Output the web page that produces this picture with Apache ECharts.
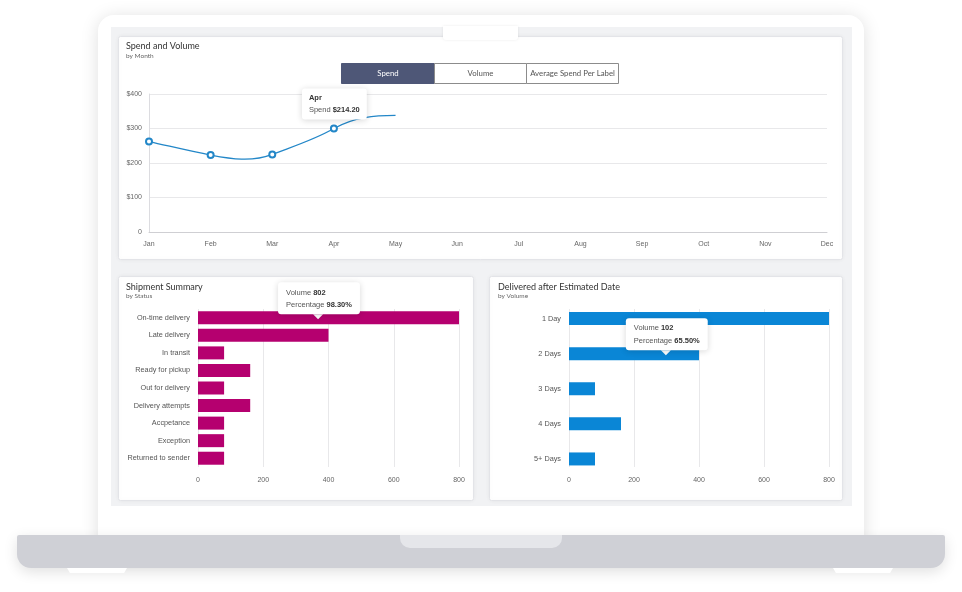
<!DOCTYPE html>
<html><head><meta charset="utf-8">
<script src="https://cdn.jsdelivr.net/npm/echarts@6/dist/echarts.min.js"></script>
<style>html,body{margin:0;padding:0;background:#fff}#c{width:962px;height:592px}</style>
</head><body><div id="c"></div>
<script>
// ---- data ----
const months = ['Jan','Feb','Mar','Apr','May','Jun','Jul','Aug','Sep','Oct','Nov','Dec'];
const spend = [262, 223, 225, 300, 338];
const spendTicks = [0, 100, 200, 300, 400];
const statusCats = ['On-time delivery','Late delivery','In transit','Ready for pickup','Out for delivery','Delivery attempts','Accpetance','Exception','Returned to sender'];
const statusVolume = [800, 400, 80, 160, 80, 160, 80, 80, 80];
const delayCats = ['1 Day','2 Days','3 Days','4 Days','5+ Days'];
const delayVolume = [800, 400, 80, 160, 80];
const volumeTicks = [0, 200, 400, 600, 800];
const buttons = ['Spend','Volume','Average Spend Per Label'];
const tipLine = ['Apr', '$214.20'];
const tipStatus = ['On-time delivery', 368, 802, '98.30%'];
const tipDelay = ['2 Days', 298, 102, '65.50%'];

// ---- styling ----
const F = '"Liberation Sans", Arial, sans-serif';
const TF = 'Lato, "Open Sans", sans-serif';
const LINE = '#2387c8', MAG = '#b5006f', BLUE = '#0a86d6';

function card(x, y, w, h) {
  return {type:'rect', z:-8, shape:{x:x+0.5, y:y+0.5, width:w, height:h, r:2},
    style:{fill:'#fff', stroke:'#e3e4e8', lineWidth:1, shadowBlur:4, shadowColor:'rgba(0,0,0,0.05)'}};
}
function txt(x, y, text, size, color, weight, family) {
  return {type:'text', z:1, style:{x:x, y:y, text:text, fontSize:size, fontFamily:family||TF, fill:color, fontWeight:weight||'normal', verticalAlign:'middle'}};
}
const btnX = [341, 434, 526], btnW = [93, 92, 92];
const btnEls = [];
buttons.forEach((b, i) => {
  btnEls.push({type:'rect', z:1, shape:{x:btnX[i]+0.5, y:63.5, width:btnW[i], height:20},
    style:{fill: i===0 ? '#4e5777' : '#fff', stroke: i===0 ? '#4e5777' : '#8c8c8c', lineWidth:1}});
  btnEls.push({type:'text', z:2, style:{x:btnX[i]+btnW[i]/2+0.5, y:73.5, text:b, fontSize:7.8, fontFamily:TF,
    fill: i===0 ? '#fff' : '#555', align:'center', verticalAlign:'middle'}});
});

const graphics = [
  {type:'rect', z:-10, shape:{x:98, y:15, width:766, height:540, r:16}, style:{fill:'#fff', shadowBlur:18, shadowColor:'rgba(0,0,0,0.13)', shadowOffsetY:2}},
  {type:'rect', z:-9, shape:{x:111, y:27, width:741, height:479}, style:{fill:'#f1f2f4'}},
  {type:'rect', z:-7, shape:{x:443, y:26, width:75, height:14, r:[0,0,3,3]}, style:{fill:'#fff', shadowBlur:3, shadowColor:'rgba(0,0,0,0.08)'}},
  card(118, 36, 724, 223), card(118, 276, 355, 224), card(489, 276, 353, 224),
  {type:'rect', z:-6, shape:{x:17, y:535, width:928, height:33, r:[2,2,14,14]}, style:{fill:'#cfd0d6', shadowBlur:14, shadowColor:'rgba(0,0,0,0.12)', shadowOffsetY:4}},
  {type:'rect', z:-5, shape:{x:400, y:535, width:162, height:13, r:[0,0,10,10]}, style:{fill:'#e5e6ea'}},
  {type:'polygon', z:-5, shape:{points:[[67,568],[127,568],[124,573],[70,573]]}, style:{fill:'#fff'}},
  {type:'polygon', z:-5, shape:{points:[[833,568],[893,568],[890,573],[836,573]]}, style:{fill:'#fff'}},
  txt(126, 46.5, 'Spend and Volume', 9, '#333'),
  txt(126, 55.5, 'by Month', 6.5, '#666'),
  txt(126, 287, 'Shipment Summary', 9, '#333'),
  txt(126, 295.5, 'by Status', 6.5, '#666'),
  txt(498, 287, 'Delivered after Estimated Date', 9, '#333'),
  txt(498, 295.5, 'by Volume', 6.5, '#666')
].concat(btnEls);

const tipBox = {backgroundColor:'#fff', borderRadius:3, shadowBlur:6, shadowColor:'rgba(0,0,0,0.16)', shadowOffsetY:1};
const rich = {
  t:{fontSize:7.5, fontWeight:'bold', color:'#333', lineHeight:12.5, fontFamily:F},
  k:{fontSize:7.5, color:'#555', lineHeight:12.5, fontFamily:F},
  v:{fontSize:7.5, fontWeight:'bold', color:'#333', lineHeight:12.5, fontFamily:F}
};

const lineData = spend.map((v, i) => {
  const d = {value: v};
  if (i === spend.length - 1) d.symbol = 'none';
  if (months[i] === tipLine[0]) {
    d.label = Object.assign({show:true, position:'top', distance:5, align:'left', offset:[-32,0], padding:[3,7,3,7],
      formatter:'{t|' + tipLine[0] + '}\n{k|Spend }{v|' + tipLine[1] + '}', rich:rich}, tipBox);
  }
  return d;
});

// cardinal-like spline through the data points (with overshoot, as in the reference)
function splineItem(params, api) {
  const p = spend.map((v, i) => api.coord([i, v]));
  const n = p.length, k = 1.8;
  const m = p.map((pt, i) => {
    if (i === 0) return (p[1][1] - p[0][1]) / (p[1][0] - p[0][0]);
    if (i === n - 1) return 0;
    return k * (p[i+1][1] - p[i-1][1]) / (p[i+1][0] - p[i-1][0]);
  });
  let d = 'M' + p[0][0] + ',' + p[0][1];
  for (let i = 0; i < n - 1; i++) {
    const dx = (p[i+1][0] - p[i][0]) / 3;
    d += ' C' + (p[i][0] + dx) + ',' + (p[i][1] + m[i] * dx) + ' ' +
         (p[i+1][0] - dx) + ',' + (p[i+1][1] - m[i+1] * dx) + ' ' + p[i+1][0] + ',' + p[i+1][1];
  }
  return {type:'path', shape:{pathData:d}, style:{fill:'none', stroke:LINE, lineWidth:1.3}};
}

function tipMarker(tip) {
  return {
    symbol:'path://M0,0 L10,0 L5,5 Z', symbolSize:[10,5], symbolKeepAspect:false, symbolOffset:[0,-1],
    itemStyle:{color:'#fff'}, silent:true,
    label:Object.assign({show:true, position:'top', distance:0, align:'left', offset:[-40,0], padding:[4,8,3,8],
      formatter:'{k|Volume }{v|' + tip[2] + '}\n{k|Percentage }{v|' + tip[3] + '}', rich:rich}, tipBox),
    data:[{coord:[tip[1], tip[0]]}]
  };
}

const axLabel = {color:'#666', fontSize:7, fontFamily:F};
const catLabel = {margin:8, color:'#555', fontSize:7.3, fontFamily:F};
const split = {lineStyle:{color:'#e8e8ea', width:1}};

const option = {
  animation:false,
  graphic:{elements:graphics},
  grid:[
    {left:149, top:94, width:678, height:138},
    {left:198, top:309, width:261, height:158},
    {left:569, top:301, width:260, height:175.5},
    {left:569, top:309, width:260, height:158}
  ],
  xAxis:[
    {gridIndex:0, type:'category', data:months, boundaryGap:false, axisLine:{lineStyle:{color:'#cfcfd3'}}, axisTick:{show:false},
      axisLabel:Object.assign({margin:8.5}, axLabel), splitLine:{show:false}},
    {gridIndex:1, type:'value', min:volumeTicks[0], max:volumeTicks[volumeTicks.length-1], interval:volumeTicks[1]-volumeTicks[0],
      axisLine:{show:false}, axisTick:{show:false}, axisLabel:Object.assign({margin:9.5}, axLabel), splitLine:split},
    {gridIndex:2, type:'value', min:volumeTicks[0], max:volumeTicks[volumeTicks.length-1], show:false},
    {gridIndex:3, type:'value', min:volumeTicks[0], max:volumeTicks[volumeTicks.length-1], interval:volumeTicks[1]-volumeTicks[0],
      axisLine:{show:false}, axisTick:{show:false}, axisLabel:Object.assign({margin:9.5}, axLabel), splitLine:split}
  ],
  yAxis:[
    {gridIndex:0, type:'value', min:spendTicks[0], max:spendTicks[spendTicks.length-1], interval:spendTicks[1]-spendTicks[0],
      axisLine:{show:true, lineStyle:{color:'#dcdce0'}}, axisTick:{show:false},
      axisLabel:Object.assign({margin:7, formatter:v => v === 0 ? '0' : '$' + v}, axLabel), splitLine:split},
    {gridIndex:1, type:'category', data:statusCats, inverse:true, axisLine:{show:false}, axisTick:{show:false}, axisLabel:catLabel},
    {gridIndex:2, type:'category', data:delayCats, inverse:true, axisLine:{show:false}, axisTick:{show:false}, axisLabel:catLabel},
    {gridIndex:3, type:'value', min:0, max:1, show:false}
  ],
  series:[
    {type:'custom', xAxisIndex:0, yAxisIndex:0, data:[[0, spend[0]]], renderItem:splineItem, silent:true, z:2},
    {type:'line', xAxisIndex:0, yAxisIndex:0, symbol:'emptyCircle', symbolSize:6, showSymbol:true,
      lineStyle:{width:0, opacity:0}, itemStyle:{color:LINE, borderWidth:1.1}, data:lineData, z:3},
    {type:'bar', xAxisIndex:1, yAxisIndex:1, data:statusVolume, barWidth:13, itemStyle:{color:MAG}, markPoint:tipMarker(tipStatus)},
    {type:'bar', xAxisIndex:2, yAxisIndex:2, data:delayVolume, barWidth:13, itemStyle:{color:BLUE}, markPoint:tipMarker(tipDelay)}
  ]
};
const chart = echarts.init(document.getElementById('c'), null, {renderer:'canvas'});
chart.setOption(option);
</script>
</body></html>
